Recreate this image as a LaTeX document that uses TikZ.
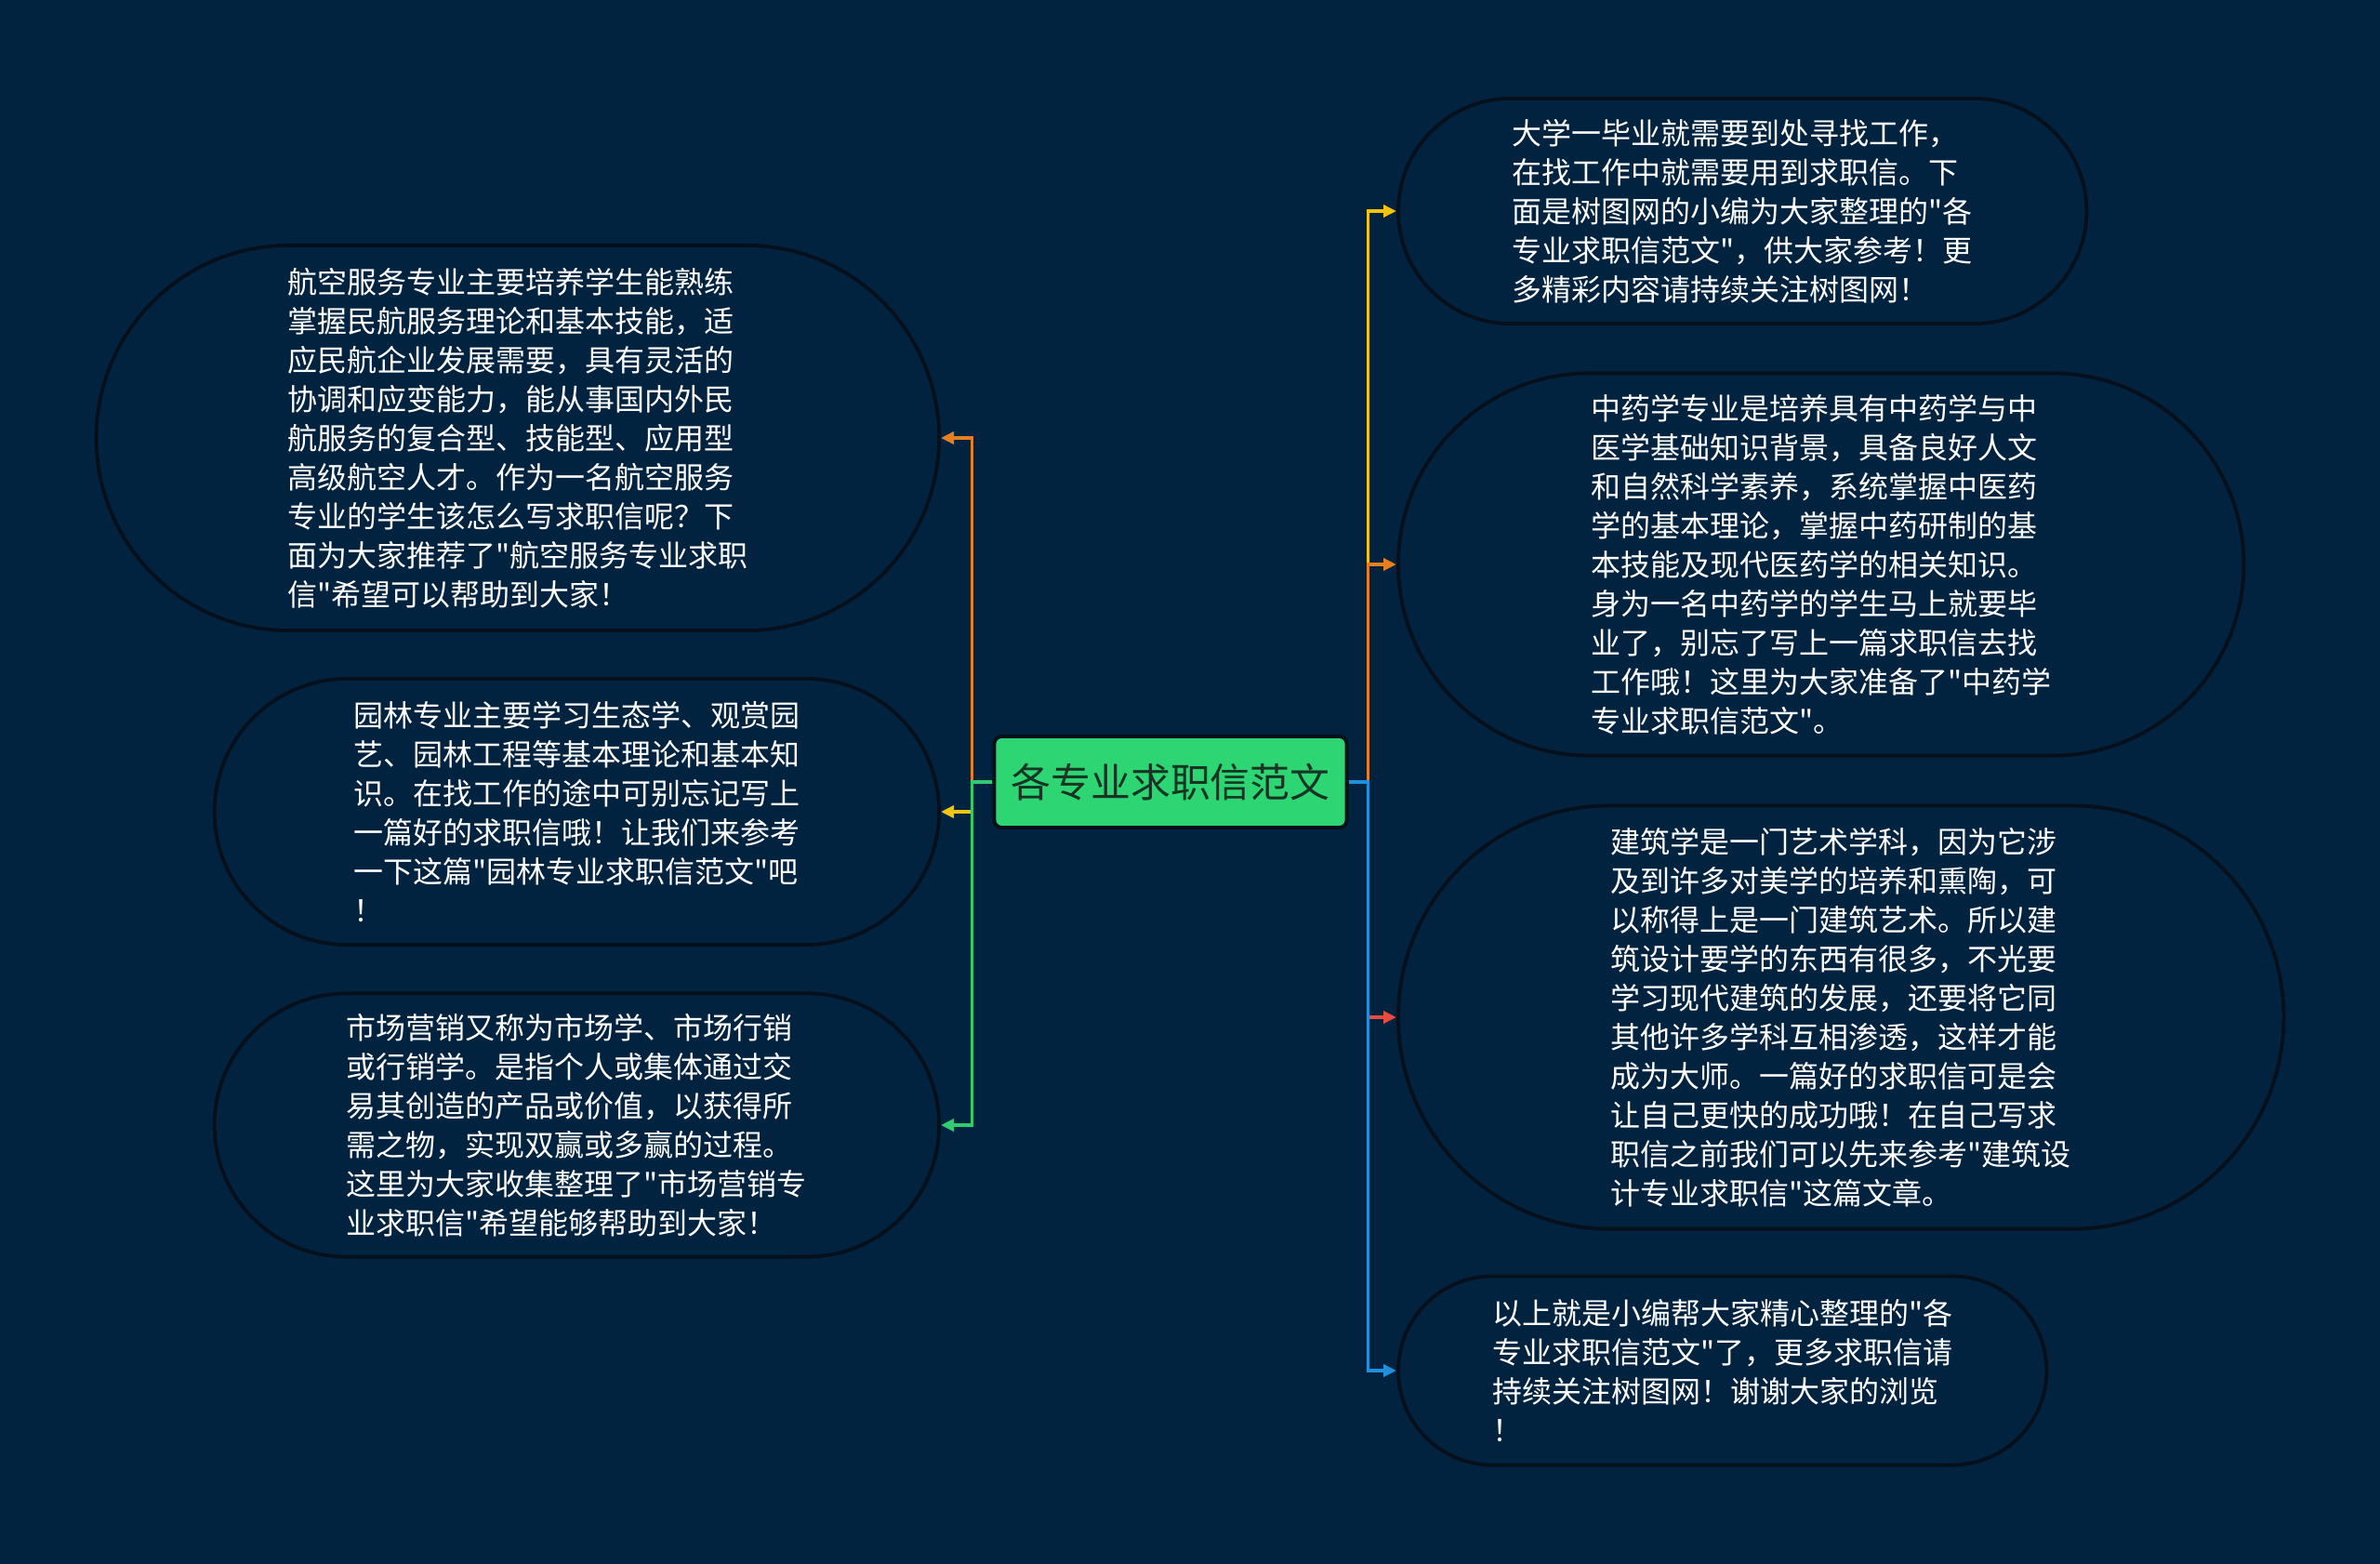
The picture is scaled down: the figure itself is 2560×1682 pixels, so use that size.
\documentclass[tikz,border=0pt]{standalone}
\usepackage{fontspec}
\newfontfamily\cjk{Noto Sans CJK SC}
\usetikzlibrary{arrows.meta, shapes.misc}
\definecolor{bg-navy}{RGB}{1,35,64}
\definecolor{root-green}{RGB}{46,213,115}
\definecolor{root-text}{RGB}{24,52,36}
\definecolor{rim-dark}{RGB}{6,16,26}
\definecolor{line-yellow}{RGB}{241,196,15}
\definecolor{line-orange}{RGB}{230,126,34}
\definecolor{line-green}{RGB}{46,204,113}
\definecolor{line-red}{RGB}{231,76,60}
\definecolor{line-blue}{RGB}{30,144,220}

\tikzset{
	topic/.style={shape=rounded rectangle, draw=rim-dark, line width=1.1pt, fill=bg-navy, text=white, align=left, inner sep=0pt, font=\cjk\fontsize{9.1}{11.95}\selectfont},
	root/.style={draw=rim-dark, line width=1.1pt, fill=root-green, text=root-text, rounded corners=0.08cm, minimum width=3.79cm, minimum height=0.98cm, inner sep=0pt, font=\cjk\fontsize{12.2}{15}\selectfont},
	link/.style={line width=1pt, -{Triangle[length=0.14cm,width=0.13cm]}}
}

\begin{document}
\begin{tikzpicture}[x=0.01cm, y=-0.01cm]
					\fill[bg-navy] (0,0) rectangle (2560,1682);
					\useasboundingbox (0,0) rectangle (2560,1682);
					
					\node[root] at (1259,841) (root) {各专业求职信范文};
					
					% left side
					\node[topic, anchor=east, minimum width=9.06cm, minimum height=4.14cm] at (1012,471) (l1) {航空服务专业主要培养学生能熟练\\掌握民航服务理论和基本技能，适\\应民航企业发展需要，具有灵活的\\协调和应变能力，能从事国内外民\\航服务的复合型、技能型、应用型\\高级航空人才。作为一名航空服务\\专业的学生该怎么写求职信呢？下\\面为大家推荐了"航空服务专业求职\\信"希望可以帮助到大家！};
					\node[topic, anchor=east, minimum width=7.79cm, minimum height=2.86cm] at (1012,873) (l2) {园林专业主要学习生态学、观赏园\\艺、园林工程等基本理论和基本知\\识。在找工作的途中可别忘记写上\\一篇好的求职信哦！让我们来参考\\一下这篇"园林专业求职信范文"吧\\！};
					\node[topic, anchor=east, minimum width=7.79cm, minimum height=2.83cm] at (1012,1210) (l3) {市场营销又称为市场学、市场行销\\或行销学。是指个人或集体通过交\\易其创造的产品或价值，以获得所\\需之物，实现双赢或多赢的过程。\\这里为大家收集整理了"市场营销专\\业求职信"希望能够帮助到大家！};
					
					% right side
					\node[topic, anchor=west, minimum width=7.40cm, minimum height=2.42cm] at (1502,227) (r1) {大学一毕业就需要到处寻找工作，\\在找工作中就需要用到求职信。下\\面是树图网的小编为大家整理的"各\\专业求职信范文"，供大家参考！更\\多精彩内容请持续关注树图网！};
					\node[topic, anchor=west, minimum width=9.09cm, minimum height=4.11cm] at (1502,607) (r2) {中药学专业是培养具有中药学与中\\医学基础知识背景，具备良好人文\\和自然科学素养，系统掌握中医药\\学的基本理论，掌握中药研制的基\\本技能及现代医药学的相关知识。\\身为一名中药学的学生马上就要毕\\业了，别忘了写上一篇求职信去找\\工作哦！这里为大家准备了"中药学\\专业求职信范文"。};
					\node[topic, anchor=west, minimum width=9.52cm, minimum height=4.55cm] at (1502,1094) (r3) {建筑学是一门艺术学科，因为它涉\\及到许多对美学的培养和熏陶，可\\以称得上是一门建筑艺术。所以建\\筑设计要学的东西有很多，不光要\\学习现代建筑的发展，还要将它同\\其他许多学科互相渗透，这样才能\\成为大师。一篇好的求职信可是会\\让自己更快的成功哦！在自己写求\\职信之前我们可以先来参考"建筑设\\计专业求职信"这篇文章。};
					\node[topic, anchor=west, minimum width=6.97cm, minimum height=2.03cm] at (1502,1474) (r4) {以上就是小编帮大家精心整理的"各\\专业求职信范文"了，更多求职信请\\持续关注树图网！谢谢大家的浏览\\！};
					
					% connectors
					\draw[link, line-yellow] (root.west) -- ++(-22,0) |- (l2.east);
					\draw[link, line-orange] (root.west) -- ++(-22,0) |- (l1.east);
					\draw[link, line-green] (root.west) -- ++(-22,0) |- (l3.east);
					
					\draw[link, line-yellow] (root.east) -- ++(21,0) |- (r1.west);
					\draw[link, line-orange] (root.east) -- ++(21,0) |- (r2.west);
					\draw[link, line-red] (root.east) -- ++(21,0) |- (r3.west);
					\draw[link, line-blue] (root.east) -- ++(21,0) |- (r4.west);
				\end{tikzpicture}
\end{document}
